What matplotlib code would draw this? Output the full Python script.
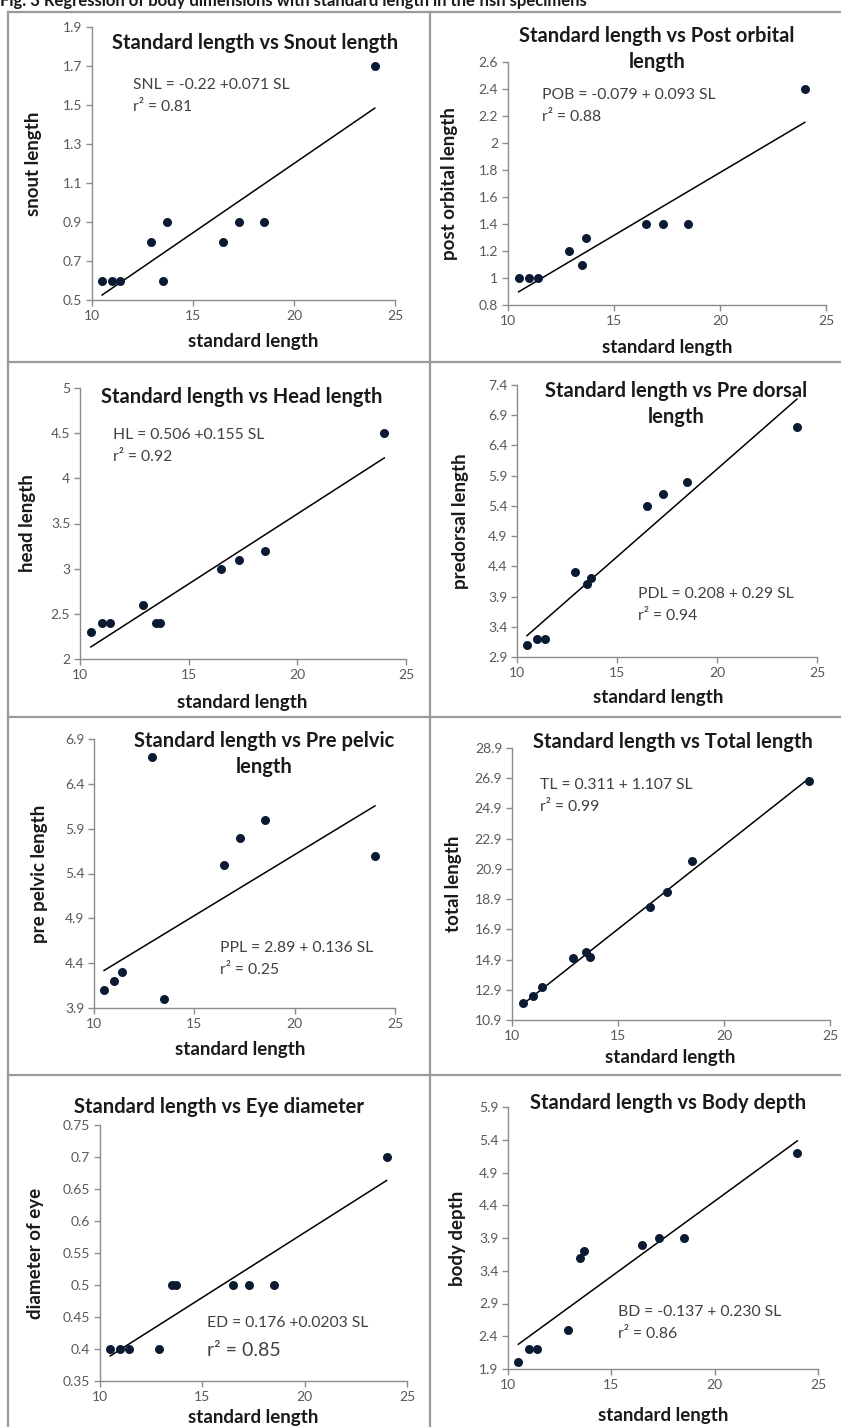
import numpy as np
import matplotlib
matplotlib.use("Agg")
import matplotlib.pyplot as plt
from matplotlib.lines import Line2D

plt.rcParams['font.family'] = ['Lato', 'DejaVu Sans']

# measurements (cm) for the ten specimens
sl = np.array([10.5, 11.0, 11.4, 12.9, 13.5, 13.7, 16.5, 17.3, 18.5, 24.0])
snout = [0.6, 0.6, 0.6, 0.8, 0.6, 0.9, 0.8, 0.9, 0.9, 1.7]
post_orbital = [1.0, 1.0, 1.0, 1.2, 1.1, 1.3, 1.4, 1.4, 1.4, 2.4]
head = [2.3, 2.4, 2.4, 2.6, 2.4, 2.4, 3.0, 3.1, 3.2, 4.5]
predorsal = [3.1, 3.2, 3.2, 4.3, 4.1, 4.2, 5.4, 5.6, 5.8, 6.7]
prepelvic = [4.1, 4.2, 4.3, 6.7, 4.0, np.nan, 5.5, 5.8, 6.0, 5.6]
total = [12.0, 12.5, 13.1, 15.0, 15.4, 15.1, 18.4, 19.4, 21.4, 26.7]
eye = [0.4, 0.4, 0.4, 0.4, 0.5, 0.5, 0.5, 0.5, 0.5, 0.7]
body_depth = [2.0, 2.2, 2.2, 2.5, 3.6, 3.7, 3.8, 3.9, 3.9, 5.2]

# regression coefficients (intercept, slope) and r squared
intercepts = [-0.22, -0.079, 0.506, 0.208, 2.89, 0.311, 0.176, -0.137]
slopes = [0.071, 0.093, 0.155, 0.29, 0.136, 1.107, 0.0203, 0.230]
r2 = ["0.81", "0.88", "0.92", "0.94", "0.25", "0.99", "0.85", "0.86"]
equations = ["SNL = -0.22 +0.071 SL", "POB = -0.079 + 0.093 SL",
             "HL = 0.506 +0.155 SL", "PDL = 0.208 + 0.29 SL",
             "PPL = 2.89 + 0.136 SL", "TL = 0.311 + 1.107 SL",
             "ED = 0.176 +0.0203 SL", "BD = -0.137 + 0.230 SL"]
titles = ["Standard length vs Snout length",
          "Standard length vs Post orbital\nlength",
          "Standard length vs Head length",
          "Standard length vs Pre dorsal\nlength",
          "Standard length vs Pre pelvic\nlength",
          "Standard length vs Total length",
          "Standard length vs Eye diameter",
          "Standard length vs Body depth"]
ylabels = ["snout length", "post orbital length", "head length", "predorsal length",
           "pre pelvic length", "total length", "diameter of eye", "body depth"]
series = [snout, post_orbital, head, predorsal, prepelvic, total, eye, body_depth]
yranges = [(0.5, 1.9, 0.2), (0.8, 2.6, 0.2), (2, 5, 0.5), (2.9, 7.4, 0.5),
           (3.9, 6.9, 0.5), (10.9, 28.9, 2), (0.35, 0.75, 0.05), (1.9, 5.9, 0.5)]

W, H = 841, 1427
fig = plt.figure(figsize=(W / 100, H / 100), dpi=100)


def fx(px):
    return px / W


def fy(py):
    return 1 - py / H


# panel layout in pixels: axes box, title centre, equation start, label spots
layout = [
    dict(box=(92, 27, 395, 300), title=(255, 43), eq=(133, 85), ylab=33, xlab=(253, 342)),
    dict(box=(508, 62, 826, 305), title=(657, 49), eq=(542, 95), ylab=450, xlab=(667, 347)),
    dict(box=(80, 388, 406, 659), title=(242, 397), eq=(113, 435), ylab=28, xlab=(242, 702)),
    dict(box=(517, 385, 817, 657), title=(676, 404), eq=(638, 594), ylab=460, xlab=(658, 698)),
    dict(box=(94, 739, 395, 1008), title=(264, 754), eq=(220, 948), ylab=40, xlab=(240, 1050)),
    dict(box=(512, 748, 830, 1020), title=(673, 742), eq=(540, 785), ylab=453, xlab=(670, 1058)),
    dict(box=(100, 1125, 407, 1381), title=(219, 1107), eq=(207, 1323), ylab=35, xlab=(253, 1417)),
    dict(box=(508, 1107, 818, 1369), title=(668, 1103), eq=(618, 1312), ylab=457, xlab=(663, 1415)),
]

axis_grey = "#8c8c8c"
text_grey = "#595959"


def fmt(v):
    s = f"{v:.2f}".rstrip("0").rstrip(".")
    return s


for i in range(8):
    lay = layout[i]
    l, t, r, b = lay["box"]
    ax = fig.add_axes([fx(l), fy(b), (r - l) / W, (b - t) / H])
    ax.patch.set_alpha(0)

    y = np.array(series[i], dtype=float)
    ax.scatter(sl, y, s=42, color="#0b1a33", zorder=3, linewidths=0)

    xs = np.array([sl.min(), sl.max()])
    ax.plot(xs, intercepts[i] + slopes[i] * xs, color="black", lw=1.1, zorder=2)

    lo, hi, step = yranges[i]
    yt = np.round(np.arange(lo, hi + step / 2, step), 2)
    ax.set_ylim(lo, hi)
    ax.set_yticks(yt)
    ax.set_yticklabels([fmt(v) for v in yt])
    ax.set_xlim(10, 25)
    ax.set_xticks([10, 15, 20, 25])
    ax.set_xticklabels(["10", "15", "20", "25"])

    for side in ["top", "right"]:
        ax.spines[side].set_visible(False)
    for side in ["left", "bottom"]:
        ax.spines[side].set_color(axis_grey)
        ax.spines[side].set_linewidth(1.0)
    ax.tick_params(direction="out", length=4, width=1, color=axis_grey,
                   labelcolor=text_grey, labelsize=10, pad=3)

    tx, ty = lay["title"]
    fig.text(fx(tx), fy(ty), titles[i], ha="center", va="center",
             fontsize=14.5, fontweight="bold", color="#1a1a1a", linespacing=1.38)

    ex, ey = lay["eq"]
    fig.text(fx(ex), fy(ey), equations[i], ha="left", va="center",
             fontsize=11.3, color="#404040")
    r2_size = 14 if i == 6 else 11.3
    r2_gap = 28 if i == 6 else 22
    fig.text(fx(ex), fy(ey + r2_gap), "r² = " + r2[i], ha="left", va="center",
             fontsize=r2_size, color="#404040")

    fig.text(fx(lay["ylab"]), fy((t + b) / 2), ylabels[i], ha="center", va="center",
             rotation=90, fontsize=13.5, fontweight="bold", color="#1a1a1a")
    lx, ly = lay["xlab"]
    fig.text(fx(lx), fy(ly), "standard length", ha="center", va="center",
             fontsize=13.5, fontweight="bold", color="#1a1a1a")

# panel frame lines
frame_col = "#9a9a9a"
for (x0, y0, x1, y1) in [(8, 12, 841, 12), (8, 12, 8, 1427), (430, 12, 430, 1427),
                         (8, 362, 841, 362), (8, 717, 841, 717), (8, 1075, 841, 1075)]:
    fig.add_artist(Line2D([fx(x0), fx(x1)], [fy(y0), fy(y1)], color=frame_col, lw=1.6))

# caption line, partly cut by the top edge
fig.text(fx(0), fy(6), "Fig. 3 Regression of body dimensions with standard length in the fish specimens",
         ha="left", va="baseline", fontsize=12, fontweight="bold", color="#1a1a1a")

fig.savefig("out.png", dpi=100)
